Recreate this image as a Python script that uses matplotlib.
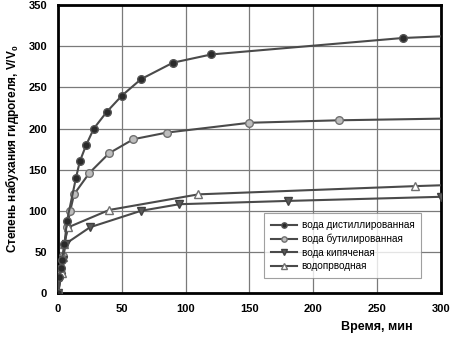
import matplotlib
matplotlib.use("Agg")
import matplotlib.pyplot as plt

plt.rcParams["font.family"] = ["Liberation Sans", "DejaVu Sans"]

# time, min / swelling degree V/V0
t_dist = [0, 1, 2, 3, 5, 7, 14, 17, 22, 28, 38, 50, 65, 90, 120, 270, 300]
v_dist = [0, 20, 30, 40, 60, 88, 140, 160, 180, 200, 220, 240, 260, 280, 290, 310, 312]

t_butyl = [0, 2, 4, 7, 9.5, 12.5, 24.5, 40, 59, 85, 150, 220, 300]
v_butyl = [0, 25, 45, 80, 100, 120, 146, 170, 187, 195, 207, 210, 212]

t_boil = [0, 2, 3.5, 6, 25, 65, 95, 180, 300]
v_boil = [0, 20, 40, 60, 80, 100, 108, 112, 117]

t_tap = [0, 2.8, 4, 4.7, 8, 40, 110, 280, 300]
v_tap = [0, 24, 44, 60, 80, 101, 120, 130, 131]

labels = ["вода дистиллированная", "вода бутилированная",
          "вода кипяченая", "водопрводная"]

fig = plt.figure(figsize=(4.54, 3.40), dpi=100)
ax = fig.add_axes([0.128, 0.138, 0.843, 0.847])

line_c = "#4a4a4a"
ax.plot(t_dist, v_dist, color=line_c, lw=1.5, marker="o", ms=5.5,
        mfc="#2a2a2a", mec="#555555", markevery=list(range(len(t_dist) - 1)),
        label=labels[0], zorder=4)
ax.plot(t_butyl, v_butyl, color=line_c, lw=1.5, marker="o", ms=5.5,
        mfc="#bdbdbd", mec="#707070", markevery=list(range(len(t_butyl) - 1)),
        label=labels[1], zorder=3)
ax.plot(t_boil, v_boil, color=line_c, lw=1.5, marker="v", ms=5.5,
        mfc="#5a5a5a", mec="#404040", label=labels[2], zorder=3)
ax.plot(t_tap, v_tap, color=line_c, lw=1.5, marker="^", ms=5.5,
        mfc="white", mec="#707070", markevery=list(range(len(t_tap) - 1)),
        label=labels[3], zorder=3)

ax.set_xlim(0, 300)
ax.set_ylim(0, 350)
ax.set_xticks(range(0, 301, 50))
ax.set_yticks(range(0, 351, 50))
ax.grid(True, color="#7a7a7a", lw=0.9)
ax.set_axisbelow(True)
for s in ax.spines.values():
    s.set_linewidth(2)
    s.set_color("black")
ax.tick_params(length=0, pad=8, labelsize=8)
for lab in ax.get_xticklabels() + ax.get_yticklabels():
    lab.set_fontweight("bold")

ax.set_ylabel("Степень набухания гидрогеля, V/V$_\\mathregular{0}$",
              fontsize=8.5, fontweight="bold", labelpad=5)
fig.text(0.83, 0.038, "Время, мин", fontsize=9, fontweight="bold",
         ha="center", va="center")

leg = ax.legend(loc="lower right", bbox_to_anchor=(0.962, 0.035), fontsize=7.2,
                frameon=True, fancybox=False, edgecolor="#888888",
                handlelength=2.6, borderpad=0.7, labelspacing=0.35,
                handletextpad=0.5, markerscale=0.7)
leg.get_frame().set_linewidth(0.8)

fig.savefig("out.png", dpi=100)
